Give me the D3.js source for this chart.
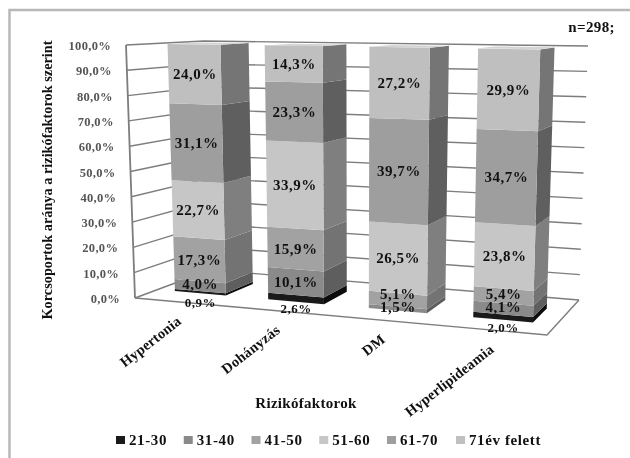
<!DOCTYPE html>
<html>
<head>
<meta charset="utf-8">
<script src="https://cdn.jsdelivr.net/npm/d3@7"></script>
<style>
  html, body { margin: 0; background: #fff; }
  svg { display: block; filter: blur(0.45px); font-family: "Liberation Serif", serif; font-weight: bold; }
</style>
</head>
<body>
<svg id="chart" width="630" height="458"></svg>
<script>
// values
const categories = ["Hypertonia", "Dohányzás", "DM", "Hyperlipideamia"];
const ageGroups = ["21-30", "31-40", "41-50", "51-60", "61-70", "71év felett"];
const age2130 = [0.9, 2.6, 0, 2.0];
const age3140 = [4.0, 10.1, 1.5, 4.1];
const age4150 = [17.3, 15.9, 5.1, 5.4];
const age5160 = [22.7, 33.9, 26.5, 23.8];
const age6170 = [31.1, 23.3, 39.7, 34.7];
const age71 = [24.0, 14.3, 27.2, 29.9];
const yTicks = [0, 10, 20, 30, 40, 50, 60, 70, 80, 90, 100];

const frontColor = ["#1a1a1a", "#8a8a8a", "#a2a2a2", "#c6c6c6", "#9e9e9e", "#bfbfbf"];
const sideColor = ["#0c0c0c", "#5e5e5e", "#737373", "#7f7f7f", "#5f5f5f", "#757575"];

const chart = d3.select("#chart");
const comma = d => d.toFixed(1).replace(".", ",") + "%";

// frame
chart.append("path")
    .attr("d", "M630,10 H9.5 V458")
    .attr("fill", "none")
    .attr("stroke", "#b8b8b8")
    .attr("stroke-width", 2.5);

// floor and ceiling corners of the 3d box
const floor = { a: [135, 298], b: [547, 335], c: [210, 270], d: [579, 300] };
const ceil = { a: [126, 45], b: [555, 51], c: [204, 41], d: [588, 46] };

const lerp = (p, q, t) => [p[0] + (q[0] - p[0]) * t, p[1] + (q[1] - p[1]) * t];
const plane = (s, u, v) => lerp(lerp(s.a, s.b, u), lerp(s.c, s.d, u), v);

let yscale = d3.scaleLinear().domain([0, 100]).range([0, 1]);
// bars spread slightly as they come nearer
let warp = d3.scalePow().exponent(1.08).domain([0, 1]).range([0, 1]);
let xscale = d3.scaleBand().domain(categories).range([0, 1]).paddingInner(0.44).paddingOuter(0.22);

function project(u, v, value) {
    return lerp(plane(floor, u, v), plane(ceil, u, v), yscale(value));
}

const line = d3.line();
const vFront = 0.3, vBack = 0.7;

// walls
let grid = chart.append("g").attr("fill", "none").attr("stroke", "#7d7d7d").attr("stroke-width", 1.4);
yTicks.forEach(t => {
    grid.append("path").attr("d", line([project(0, 0, t), project(0, 1, t), project(1, 1, t)]));
});
grid.append("path").attr("d", line([project(0, 0, 0), project(0, 0, 100)])).attr("stroke-width", 1.8);
grid.append("path").attr("d", line([project(0, 0, 0), project(1, 0, 0), project(1, 1, 0)]));

// tick labels
chart.append("g").selectAll("text").data(yTicks).join("text")
    .attr("x", d => project(0, 0, d)[0] - 15)
    .attr("y", d => project(0, 0, d)[1] + 5)
    .attr("text-anchor", "end")
    .attr("font-size", 12.5)
    .attr("letter-spacing", 0.3)
    .attr("fill", "#555")
    .text(d => d.toFixed(1).replace(".", ",") + "%");

// bars
const rows = categories.map((c, i) => ({
    cat: c,
    "21-30": age2130[i], "31-40": age3140[i], "41-50": age4150[i],
    "51-60": age5160[i], "61-70": age6170[i], "71év felett": age71[i]
}));
const stacked = d3.stack().keys(ageGroups)(rows);

const barLeft = c => warp(xscale(c));
const barRight = c => warp(xscale(c) + xscale.bandwidth());

let bars = chart.append("g");
categories.forEach((c, i) => {
    let g = bars.append("g");
    let u0 = barLeft(c), u1 = barRight(c);
    stacked.forEach((s, k) => {
        let lo = s[i][0], hi = s[i][1];
        if (hi - lo <= 0) return;
        g.append("path")
            .attr("fill", sideColor[k])
            .attr("d", line([project(u1, vFront, lo), project(u1, vBack, lo), project(u1, vBack, hi), project(u1, vFront, hi)]) + "Z");
        g.append("path")
            .attr("fill", frontColor[k])
            .attr("d", line([project(u0, vFront, lo), project(u1, vFront, lo), project(u1, vFront, hi), project(u0, vFront, hi)]) + "Z");
    });
    g.append("path")
        .attr("fill", "#d4d4d4")
        .attr("d", line([project(u0, vFront, 100), project(u1, vFront, 100), project(u1, vBack, 100), project(u0, vBack, 100)]) + "Z");
});

// value labels, the thin 21-30 ones fall under the bar
let labels = chart.append("g");
stacked.forEach((s, k) => {
    s.forEach((d, i) => {
        let value = d[1] - d[0];
        if (value <= 0) return;
        let c = categories[i];
        let p = project((barLeft(c) + barRight(c)) / 2, vFront, (d[0] + d[1]) / 2);
        let shift = k === 0 ? 10 : value < 6 ? -2 : 0;
        // DM has no 21-30 part, its two lowest labels are pushed apart
        if (age2130[i] === 0 && k === 2) shift -= 4;
        labels.append("text")
            .attr("x", p[0])
            .attr("y", p[1] + 5 + shift)
            .attr("text-anchor", "middle")
            .attr("font-size", k === 0 ? 13 : 15)
            .attr("letter-spacing", 0.5)
            .attr("fill", "#111")
            .text(comma(Math.round(value * 10) / 10));
    });
});

// category labels
chart.append("g").selectAll("text").data(categories).join("text")
    .attr("transform", d => {
        let p = project((barLeft(d) + barRight(d)) / 2, 0, 0);
        return "translate(" + (p[0] + 3) + "," + (p[1] + 21) + ") rotate(-38)";
    })
    .attr("text-anchor", "end")
    .attr("font-size", 14.5)
    .attr("letter-spacing", 0.2)
    .attr("fill", "#111")
    .text(d => d);

// titles
chart.append("text")
    .attr("transform", "translate(52,180) rotate(-90)")
    .attr("text-anchor", "middle")
    .attr("font-size", 14.3)
    .attr("fill", "#111")
    .text("Korcsoportok aránya a rizikófaktorok szerint");

chart.append("text")
    .attr("x", 306)
    .attr("y", 408)
    .attr("text-anchor", "middle")
    .attr("font-size", 15)
    .attr("letter-spacing", 0.3)
    .attr("fill", "#111")
    .text("Rizikófaktorok");

chart.append("text")
    .attr("x", 615)
    .attr("y", 32)
    .attr("text-anchor", "end")
    .attr("font-size", 15)
    .attr("letter-spacing", 0.4)
    .attr("fill", "#111")
    .text("n=298;");

// legend
const legendX = d3.scalePoint().domain(ageGroups.slice(0, 5)).range([116, 387]);
let legend = chart.append("g").selectAll("g").data(ageGroups).join("g")
    .attr("transform", (d, i) => "translate(" + (i < 5 ? legendX(d) : 456) + ",440)");
legend.append("rect")
    .attr("y", -4)
    .attr("width", 9)
    .attr("height", 8)
    .attr("fill", (d, i) => frontColor[i]);
legend.append("text")
    .attr("x", 13)
    .attr("y", 5)
    .attr("font-size", 15)
    .attr("letter-spacing", 0.6)
    .attr("fill", "#111")
    .text(d => d);
</script>
</body>
</html>
